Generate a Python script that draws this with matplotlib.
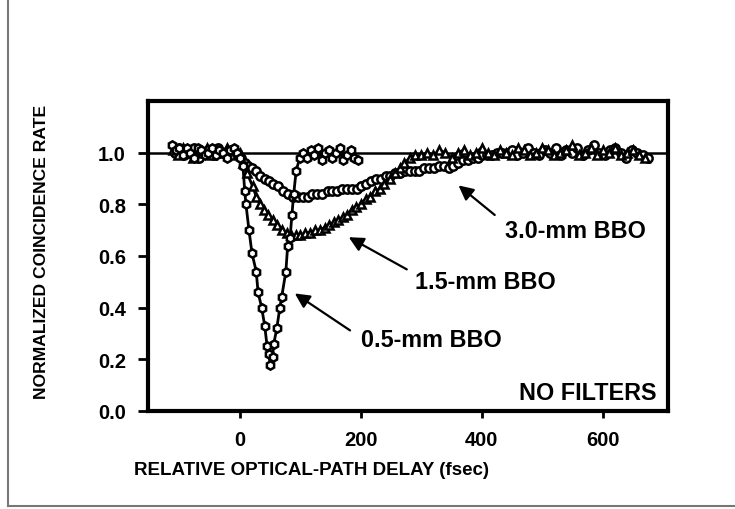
import matplotlib
matplotlib.use("Agg")
import matplotlib.pyplot as plt
from matplotlib.lines import Line2D

plt.rcParams['font.family'] = ['Liberation Sans', 'DejaVu Sans']
plt.rcParams['font.weight'] = 'bold'

# 0.5-mm BBO
x05 = [-112, -106, -100, -94, -88, -82, -76, -70, -64, -58, -52, -46, -40, -34, -28, -22, -16, -10, -4, 0,
       5, 8, 10, 15, 20, 27, 30, 36, 41, 45, 48, 50, 54, 56, 61, 66, 69, 76, 79, 83, 86, 89, 93, 99,
       105, 111, 117, 123, 129, 135, 141, 147, 153, 159, 165, 171, 177, 183, 189, 195]
y05 = [1.03, 1.01, 1.02, 0.99, 1.02, 1.00, 0.98, 1.02, 1.01, 0.99, 1.00, 1.02, 0.99, 1.01, 1.00, 0.98, 1.01, 1.02, 1.00, 0.98,
       0.95, 0.85, 0.80, 0.70, 0.61, 0.54, 0.46, 0.40, 0.33, 0.25, 0.22, 0.18, 0.21, 0.26, 0.32, 0.40, 0.44, 0.54, 0.64, 0.67,
       0.76, 0.84, 0.93, 0.98,
       1.00, 0.98, 1.01, 0.99, 1.02, 0.97, 1.00, 1.01, 0.98, 1.00, 1.02, 0.97, 0.99, 1.01, 0.98, 0.97]

# 1.5-mm BBO
x15 = [-110, -102, -94, -86, -78, -70, -62, -54, -46, -38, -30, -22, -14, -6,
       0, 5, 12, 21, 27, 33, 40, 46, 55, 62, 70, 78, 85, 93, 100, 108, 116, 124, 132, 140,
       147, 155, 162, 170, 177, 185, 192, 200, 208, 215, 223, 231, 239, 248, 256, 264, 272, 281, 290, 300,
       310, 320, 330, 340, 350, 360, 370, 380, 390, 400, 410, 420, 430, 440, 450, 460, 470, 480, 490, 500,
       510, 520, 530, 540, 550, 560, 570, 580, 590, 600, 610, 620, 630, 640, 650, 660, 670]
y15 = [1.01, 0.99, 1.02, 1.00, 0.98, 1.01, 1.00, 1.02, 0.99, 1.01, 1.00, 1.02, 0.99, 1.01,
       1.00, 0.96, 0.92, 0.87, 0.83, 0.80, 0.78, 0.76, 0.74, 0.72, 0.70, 0.69, 0.68, 0.68, 0.68, 0.69, 0.69, 0.70, 0.70, 0.71,
       0.72, 0.73, 0.74, 0.75, 0.76, 0.78, 0.79, 0.80, 0.82, 0.83, 0.85, 0.86, 0.88, 0.90, 0.92, 0.94, 0.96, 0.98, 0.99, 0.99,
       1.00, 0.99, 1.01, 1.00, 0.98, 1.00, 1.01, 0.99, 1.00, 1.02, 1.00, 0.99, 1.01, 1.00, 0.99, 1.02, 1.01, 0.99, 1.00, 1.02,
       1.01, 0.99, 1.00, 1.01, 1.03, 0.99, 1.00, 1.02, 0.99, 1.01, 1.00, 1.02, 0.99, 1.00, 1.01, 0.99, 0.98]

# 3.0-mm BBO
x30 = [-108, -100, -92, -84, -76, -68, -60, -52, -44, -36, -28, -20, -12, -4,
       2, 8, 14, 20, 26, 33, 41, 48, 55, 63, 71, 80, 88, 96, 104, 112, 120, 128, 136, 145,
       153, 161, 169, 177, 185, 193, 201, 209, 217, 225, 233, 241, 249, 257, 265, 273, 281, 289, 297, 305,
       313, 321, 329, 337, 345, 353, 361, 369, 377, 385, 393, 401, 409, 417, 425, 433, 441,
       450, 459, 468, 477, 486, 495, 504, 513, 522, 531, 540, 549, 558, 567, 576, 585, 594, 603, 612, 621,
       630, 639, 648, 657, 666, 675]
y30 = [1.00, 1.02, 0.99, 1.01, 1.02, 0.98, 1.00, 1.01, 0.99, 1.02, 1.00, 0.99, 1.01, 1.00,
       0.98, 0.96, 0.95, 0.94, 0.93, 0.91, 0.90, 0.89, 0.88, 0.87, 0.85, 0.84, 0.83, 0.83, 0.83, 0.83, 0.84, 0.84, 0.84, 0.85,
       0.85, 0.85, 0.86, 0.86, 0.86, 0.86, 0.87, 0.88, 0.89, 0.90, 0.90, 0.91, 0.91, 0.92, 0.92, 0.93, 0.93, 0.93, 0.93, 0.94,
       0.94, 0.94, 0.95, 0.95, 0.94, 0.95, 0.96, 0.97, 0.97, 0.98, 0.98, 0.99, 0.99, 0.99, 1.00, 1.00, 1.00,
       1.01, 0.99, 1.00, 1.02, 1.00, 0.99, 1.01, 1.00, 1.02, 0.99, 1.01, 1.00, 1.02, 0.99, 1.01, 1.03, 1.00, 0.99, 1.01, 1.02,
       1.00, 0.98, 1.01, 1.00, 0.99, 0.98]

assert len(x05) == len(y05) and len(x15) == len(y15) and len(x30) == len(y30)

xticks = [0, 200, 400, 600]
yticks = [0.0, 0.2, 0.4, 0.6, 0.8, 1.0]

fig = plt.figure(figsize=(7.35, 5.1), dpi=100)
ax = fig.add_axes([148/735, 1 - 412/510, (668-148)/735, (412-102)/510])

ax.axhline(1.0, color='black', lw=1.8, zorder=1)

style = dict(color='black', lw=2, mfc='white', mec='black', mew=1.8, ms=6)
ax.plot(x30, y30, marker='o', **style)
ax.plot(x15, y15, marker='^', **style)
ax.plot(x05, y05, marker='h', **style)

ax.set_xlim(-152, 708)
ax.set_ylim(0, 1.2)
ax.set_xticks(xticks)
ax.set_yticks(yticks)
ax.set_yticklabels(['%.1f' % v for v in yticks])
ax.tick_params(direction='out', width=2, labelsize=14.5)
ax.tick_params(axis='y', length=7, pad=9)
ax.tick_params(axis='x', length=5, pad=9)
for s in ax.spines.values():
    s.set_linewidth(3)

ax.set_xlabel('RELATIVE OPTICAL-PATH DELAY (fsec)', fontsize=13.5, fontweight='bold')
ax.xaxis.set_label_coords(0.314, -0.19)
ax.xaxis.label.set_va('center')
ax.set_ylabel('NORMALIZED COINCIDENCE RATE', fontsize=12.6, fontweight='bold')
ax.yaxis.set_label_coords(-0.205, 0.516)
ax.yaxis.label.set_va('center')

arrow = dict(arrowstyle='-|>', color='black', lw=1.6, mutation_scale=22)
ax.annotate('', xy=(358, 0.88), xytext=(425, 0.752), arrowprops=arrow)
ax.annotate('', xy=(176, 0.678), xytext=(280, 0.543), arrowprops=arrow)
ax.annotate('', xy=(87, 0.461), xytext=(186, 0.306), arrowprops=arrow)

lab = dict(fontsize=16.8, fontweight='bold', va='center')
ax.text(438, 0.698, '3.0-mm BBO', ha='left', **lab)
ax.text(290, 0.500, '1.5-mm BBO', ha='left', **lab)
ax.text(201, 0.275, '0.5-mm BBO', ha='left', **lab)
ax.text(689, 0.070, 'NO FILTERS', ha='right', **lab)

# outer frame (left and bottom edges)
fig.add_artist(Line2D([8/735, 8/735], [3/510, 1], transform=fig.transFigure, color='#777777', lw=1.5))
fig.add_artist(Line2D([8/735, 1], [3/510, 3/510], transform=fig.transFigure, color='#777777', lw=1.5))

fig.savefig('out.png', dpi=100)
